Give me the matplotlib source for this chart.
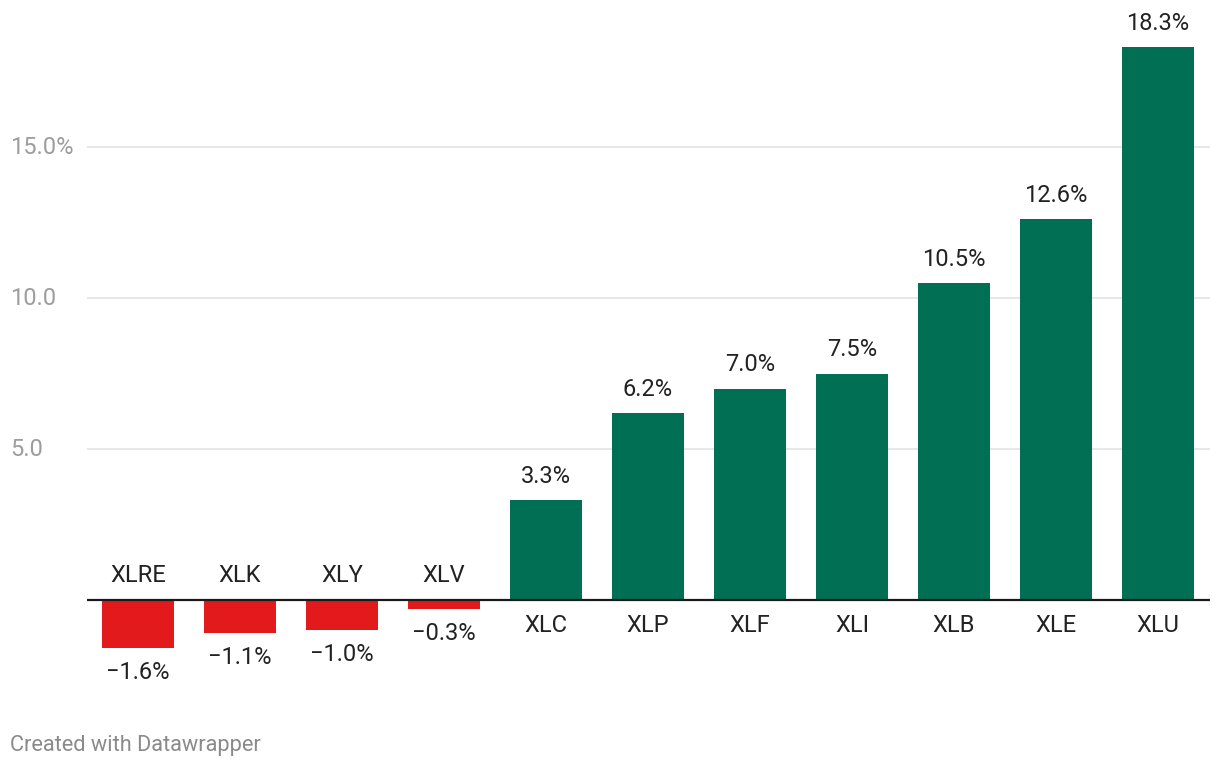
import matplotlib
matplotlib.use("Agg")
import matplotlib.pyplot as plt

plt.rcParams['font.family'] = ['Roboto', 'DejaVu Sans']

tickers = ['XLRE', 'XLK', 'XLY', 'XLV', 'XLC', 'XLP', 'XLF', 'XLI', 'XLB', 'XLE', 'XLU']
returns = [-1.6, -1.1, -1.0, -0.3, 3.3, 6.2, 7.0, 7.5, 10.5, 12.6, 18.3]
grid_vals = [5, 10, 15]
grid_labels = ['5.0', '10.0', '15.0%']

green = '#006f54'
red = '#e31a1c'

fig = plt.figure(figsize=(12.2, 7.68), dpi=100)
ax = fig.add_axes([0, 0, 1, 1])
ax.set_xlim(-1.353, 10.608)
ax.set_ylim(-5.563, 19.868)
ax.axis('off')

x = list(range(len(tickers)))
colors = [green if v >= 0 else red for v in returns]

# gridlines + labels
for g, lab in zip(grid_vals, grid_labels):
    ax.hlines(g, -0.5, 10.51, color='#e3e3e3', lw=1.2, zorder=0)
    ax.text(-1.255, g, lab, ha='left', va='center', fontsize=17, color='#9d9d9d')

ax.bar(x, returns, width=0.706, color=colors, zorder=2)
ax.hlines(0, -0.5, 10.51, color='#1a1a1a', lw=1.6, zorder=3)

fs = 17
for xi, t, v in zip(x, tickers, returns):
    lab = f'{v:.1f}%'.replace('-', '\u2212')
    if v >= 0:
        ax.annotate(lab, (xi, v), xytext=(0, 17), textcoords='offset points',
                    ha='center', va='center', fontsize=fs, color='#222222')
        ax.annotate(t, (xi, 0), xytext=(0, -18), textcoords='offset points',
                    ha='center', va='center', fontsize=fs, color='#222222')
    else:
        ax.annotate(lab, (xi, v), xytext=(0, -17.5), textcoords='offset points',
                    ha='center', va='center', fontsize=fs, color='#222222')
        ax.annotate(t, (xi, 0), xytext=(0, 17.5), textcoords='offset points',
                    ha='center', va='center', fontsize=fs, color='#222222')

fig.text(10 / 1220, 1 - 745 / 768, 'Created with Datawrapper', ha='left', va='center',
         fontsize=15.7, color='#8a8a8a')

fig.savefig('out.png', dpi=100)
